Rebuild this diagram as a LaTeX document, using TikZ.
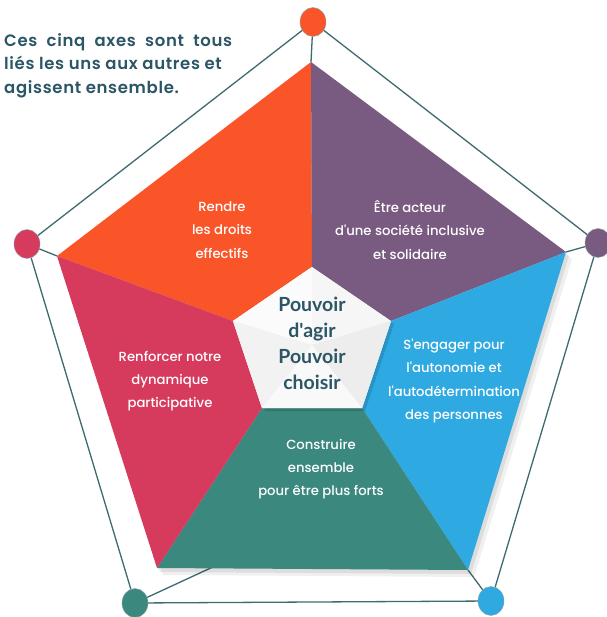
\documentclass[tikz,border=0pt]{standalone}
\usepackage{fontspec}
\setmainfont{Poppins}
\newfontface\labelfont{Poppins Medium}
\newfontfamily\titlefont{Lato}
\newfontface\introfont{Poppins SemiBold}[LetterSpace=4]
\usetikzlibrary{calc,shapes.geometric}
\definecolor{cOrange}{HTML}{FA5529}
\definecolor{cPurple}{HTML}{795A80}
\definecolor{cBlue}{HTML}{2EA9E1}
\definecolor{cTeal}{HTML}{3A887E}
\definecolor{cPink}{HTML}{D63B5E}
\definecolor{cLine}{HTML}{3E6B6F}
\definecolor{cText}{HTML}{2B5665}
\tikzset{
  frame/.style={draw=cLine, line width=1.3pt},
  dot/.style={ellipse, minimum width=26pt, minimum height=29pt, inner sep=0pt, draw=cLine!60, line width=0.4pt},
  seclabel/.style={text=white, align=center, font=\labelfont\fontsize{13.2}{23.3}\selectfont},
}
\begin{document}
\begin{tikzpicture}[x=1pt,y=-1pt]
\useasboundingbox (0,0) rectangle (606,617);
\fill[white] (0,0) rectangle (606,617);
% key points
\coordinate (it) at (311,62);
\coordinate (ir) at (566,252);
\coordinate (ibr) at (468,570);
\coordinate (ibl) at (157,568);
\coordinate (il) at (57,256);
\coordinate (ct) at (312,267);
\coordinate (cr) at (391,321);
\coordinate (cbr) at (362,408);
\coordinate (cbl) at (262,408);
\coordinate (cl) at (233,321);
\coordinate (cc) at (312,345);
\coordinate (blend) at (215,566);
% circles (positions)
\node[dot, fill=cOrange] (T) at (313,22) {};
\node[dot, fill=cPurple] (R) at (598,243) {};
\node[dot, fill=cBlue] (BR) at (491,601) {};
\node[dot, fill=cTeal] (BL) at (135,603) {};
\node[dot, fill=cPink] (L) at (27,244) {};
% outer frame
\draw[frame] (T) -- (R) -- (BR) -- (BL) -- (L) -- (T);
\draw[frame] (T) -- (it);
\draw[frame] (R) -- (ir);
\draw[frame] (BR) -- (ibr);
\draw[frame] (BL) -- (blend);
\draw[frame] (L) -- (il);
% shadow
\fill[black, opacity=0.06] ($(it)+(6,7)$) -- ($(ir)+(6,7)$) -- ($(ibr)+(6,7)$) -- ($(ibl)+(6,7)$) -- ($(il)+(6,7)$) -- cycle;
\fill[black, opacity=0.08] ($(it)+(3,4)$) -- ($(ir)+(3,4)$) -- ($(ibr)+(3,4)$) -- ($(ibl)+(3,4)$) -- ($(il)+(3,4)$) -- cycle;
% sectors
\fill[cOrange] (il) -- (it) -- (ct) -- (cl) -- cycle;
\fill[cPurple] (it) -- (ir) -- (cr) -- (ct) -- cycle;
\fill[cBlue] (ir) -- (ibr) -- (cbr) -- (cr) -- cycle;
\fill[cTeal] (ibr) -- (ibl) -- (cbl) -- (cbr) -- cycle;
\fill[cPink] (ibl) -- (il) -- (cl) -- (cbl) -- cycle;
% center pentagon
\fill[black, opacity=0.12] ($(ct)+(3,3)$) -- ($(cr)+(3,3)$) -- ($(cbr)+(3,3)$) -- ($(cbl)+(3,3)$) -- ($(cl)+(3,3)$) -- cycle;
\fill[white!93!gray] (ct) -- (cr) -- (cbr) -- (cbl) -- (cl) -- cycle;
\fill[white!97!gray] (cc) -- (ct) -- (cl) -- cycle;
\fill[white!86!gray] (cc) -- (cr) -- (cbr) -- cycle;
\fill[white!90!gray] (cc) -- (cbl) -- (cl) -- cycle;
\fill[white!95!gray] (cc) -- (cbr) -- (cbl) -- cycle;
% texts
\node[seclabel] (tOrange) at (222,230) {Rendre\\les droits\\effectifs};
\node[seclabel] (tPurple) at (410,230) {Être acteur\\d'une société inclusive\\et solidaire};
\node[seclabel] (tBlue) at (454,381) {S'engager pour\\l'autonomie et\\l'autodétermination\\des personnes};
\node[seclabel] (tTeal) at (321,469) {Construire\\ensemble\\pour être plus forts};
\node[seclabel] (tPink) at (170,381) {Renforcer notre\\dynamique\\participative};
\node[text=cText, align=center, font=\titlefont\bfseries\fontsize{19.5}{26}\selectfont] (tCenter) at (312,343) {Pouvoir\\d'agir\\Pouvoir\\choisir};
\node[text=cText, anchor=north west, align=left, inner sep=0pt, font=\introfont\fontsize{16.5}{23.5}\selectfont] (tIntro) at (4,33)
  {\hbox to 228pt{Ces\hfill cinq\hfill axes\hfill sont\hfill tous}\\liés les uns aux autres et\\agissent ensemble.};
\end{tikzpicture}
\end{document}
